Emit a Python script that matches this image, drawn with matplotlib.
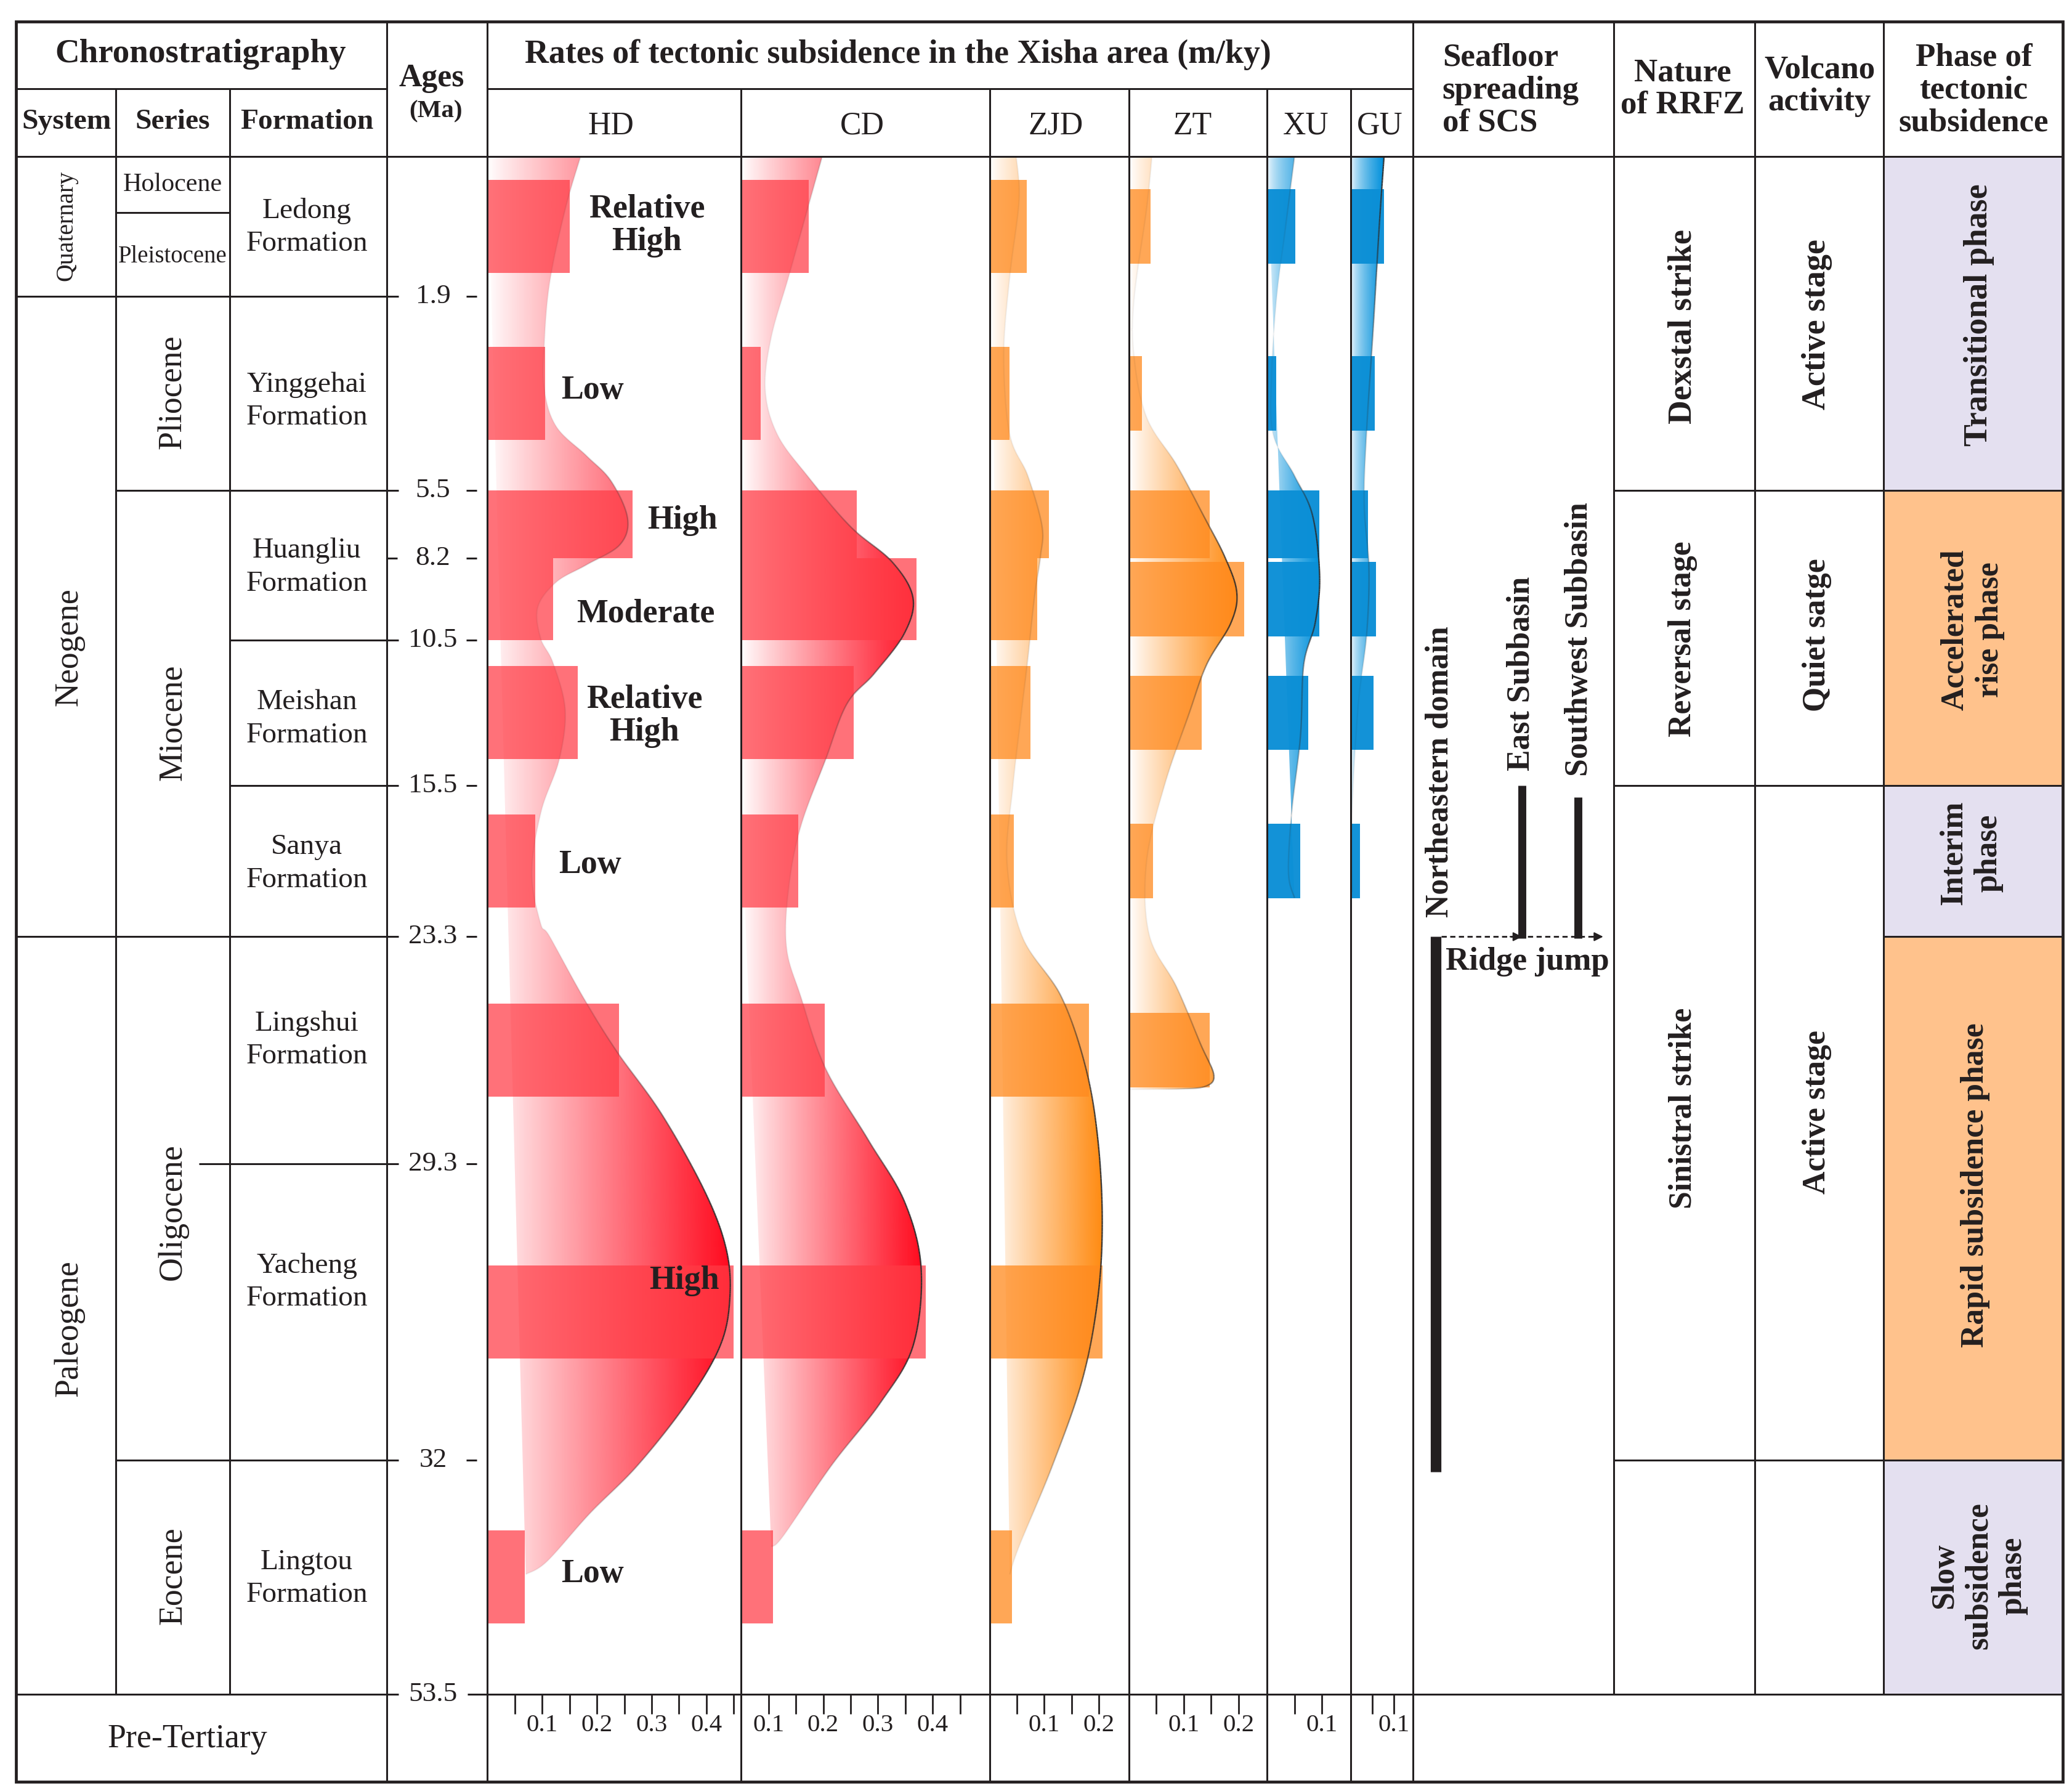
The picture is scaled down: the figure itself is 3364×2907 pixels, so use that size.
import numpy as np
import matplotlib
matplotlib.use("Agg")
import matplotlib.pyplot as plt
from matplotlib.path import Path
from matplotlib.patches import PathPatch, Rectangle
from matplotlib.collections import LineCollection
from matplotlib.colors import to_rgb

plt.rcParams['font.family'] = ['Liberation Serif', 'DejaVu Serif']

W, H = 1560, 1348            # page layout units
PT = 3364 / W * 0.72         # layout unit -> points at dpi 100
INK = '#231f20'
TOP, BOT = 118, 1275         # body of the table (0 Ma .. 53.5 Ma)

# ---------------- data ----------------
age_ticks = [0, 1.9, 5.5, 8.2, 10.5, 15.5, 23.3, 29.3, 32, 53.5]
age_pos = [118, 223, 369, 420, 482, 591, 705, 876, 1099, 1275]   # where each age sits on the page

# age intervals of the rate bars (Ma)
bar_top = [0, 1.9, 5.5, 8.2, 10.5, 15.5, 23.3, 29.3, 32]
bar_bot = [1.9, 5.5, 8.2, 10.5, 15.5, 23.3, 29.3, 32, 53.5]

# subsidence rates (m/ky) per interval
hd_rate = [0.15, 0.105, 0.265, 0.12, 0.165, 0.087, 0.24, 0.45, 0.068]
cd_rate = [0.174, 0.086, 0.261, 0.37, 0.256, 0.154, 0.203, 0.387, 0.108]
zjd_rate = [0.068, 0.036, 0.109, 0.087, 0.075, 0.044, 0.182, 0.206, 0.041]
zt_rate = [0.039, 0.024, 0.148, 0.211, 0.133, 0.044, 0.148]
xu_rate = [0.051, 0.017, 0.095, 0.095, 0.075, 0.061]
gu_rate = [0.077, 0.055, 0.04, 0.058, 0.052, 0.022]

# trend envelopes (age Ma, rate m/ky)
hd_c_age = [0, 0.72, 1.7, 2.76, 3.63, 4.32, 4.86, 5.33, 6.61, 7.67, 8.39, 8.87, 9.57, 10.43, 11.28,
            12.89, 14.63, 16.87, 20.0, 22.6, 23.3, 24.9, 26.3, 28.0, 29.55, 30.07, 30.52, 30.96,
            31.48, 32.5, 36.9, 41.3, 42.5]
hd_c_rate = [0.170, 0.142, 0.114, 0.104, 0.104, 0.126, 0.181, 0.226, 0.256, 0.242, 0.181, 0.126,
             0.092, 0.097, 0.120, 0.142, 0.131, 0.098, 0.081, 0.097, 0.114, 0.175, 0.235, 0.319,
             0.397, 0.436, 0.443, 0.425, 0.364, 0.274, 0.187, 0.109, 0.070]
cd_c_age = [0, 0.72, 1.63, 2.66, 3.63, 4.46, 5.23, 6.93, 8.31, 9.31, 10.31, 11.65, 12.70, 14.63,
            17.62, 20.77, 23.58, 24.88, 26.77, 28.66, 29.65, 30.26, 30.96, 31.48, 32.49, 38.97, 39.95]
cd_c_rate = [0.198, 0.171, 0.137, 0.105, 0.094, 0.116, 0.171, 0.249, 0.326, 0.364, 0.348, 0.293,
             0.243, 0.204, 0.159, 0.137, 0.133, 0.159, 0.204, 0.282, 0.349, 0.379, 0.364, 0.304,
             0.215, 0.127, 0.105]
zjd_c_age = [0, 0.6, 1.63, 3.0, 4.46, 5.23, 6.93, 8.15, 9.31, 11.14, 12.89, 15.5, 19.47, 23.3,
             24.88, 26.77, 28.66, 29.82, 30.52, 31.26, 32.49, 39.94, 42.5]
zjd_c_rate = [0.049, 0.054, 0.037, 0.026, 0.037, 0.070, 0.096, 0.093, 0.082, 0.070, 0.059, 0.043,
              0.032, 0.06, 0.131, 0.176, 0.198, 0.206, 0.198, 0.170, 0.115, 0.054, 0.037]
zt_c_age = [0, 0.72, 1.97, 3.0, 4.14, 5.03, 6.5, 8.15, 9.16, 10.02, 11.33, 13.07, 15.5, 19.47,
            23.2, 24.63, 26.14, 26.95, 27.25, 27.32, 27.33]
zt_c_rate = [0.042, 0.032, 0.009, 0.009, 0.032, 0.087, 0.136, 0.175, 0.197, 0.186, 0.142, 0.109,
             0.065, 0.032, 0.037, 0.087, 0.131, 0.155, 0.14, 0.09, 0.0]
xu_c_age = [0, 0.94, 1.97, 3.4, 4.46, 5.23, 6.5, 8.7, 10.0, 11.33, 13.8, 16.87, 20.0, 21.3]
xu_c_rate = [0.050, 0.034, 0.017, 0.008, 0.011, 0.050, 0.083, 0.096, 0.088, 0.067, 0.061, 0.045,
             0.039, 0.050]
gu_c_age = [0, 0.94, 2.49, 4.36, 6.0, 8.45, 10.3, 12.8, 16.87, 21.0]
gu_c_rate = [0.077, 0.066, 0.052, 0.037, 0.031, 0.042, 0.037, 0.017, 0.003, 0.003]

wells = ['HD', 'CD', 'ZJD', 'ZT', 'XU', 'GU']

hd_notes = ['Relative\nHigh', 'Low', 'High', 'Moderate', 'Relative\nHigh', 'Low', 'High', 'Low']


def depth(a):
    return np.interp(a, age_ticks, age_pos)


# ---------------- figure ----------------
fig = plt.figure(figsize=(33.64, 29.07), dpi=100)
fig.patch.set_facecolor('white')


def frame(xl, xr):
    return [xl / W, 1 - BOT / H, (xr - xl) / W, (BOT - TOP) / H]


def bezier_curve(px, py, n=24):
    # Catmull-Rom knots -> cubic Bezier, sampled
    P = np.column_stack([px, py])
    Q = np.vstack([P[0], P, P[-1]])
    t = np.linspace(0, 1, n)[:, None]
    out = [P[:1]]
    for i in range(len(P) - 1):
        p0, p1, p2, p3 = Q[i], Q[i + 1], Q[i + 2], Q[i + 3]
        c1 = p1 + (p2 - p0) / 6
        c2 = p2 - (p3 - p1) / 6
        b = ((1 - t) ** 3) * p1 + 3 * ((1 - t) ** 2) * t * c1 + 3 * (1 - t) * t ** 2 * c2 + t ** 3 * p2
        out.append(b[1:])
    return np.vstack(out)


RED, ORANGE, BLUE = '#ff0a1e', '#ff8a10', '#0090dc'
columns = [
    # name, left, right, x origin, units per 1 m/ky, colour, gradient gamma, bar colour, bar alpha,
    # rates, curve, half bar height, last tick
    ('HD', 367, 558, 0.0, 412, RED, 0.9, '#ff3b45', 0.72, hd_rate, hd_c_age, hd_c_rate, 35, 0.45),
    ('CD', 558, 745, 0.05, 412, RED, 0.9, '#ff3b45', 0.72, cd_rate, cd_c_age, cd_c_rate, 35, 0.45),
    ('ZJD', 745, 850, 0.0, 412, ORANGE, 0.9, '#ff8a1e', 0.75, zjd_rate, zjd_c_age, zjd_c_rate, 35, 0.2),
    ('ZT', 850, 954, 0.0, 412, ORANGE, 0.9, '#ff8a1e', 0.75, zt_rate, zt_c_age, zt_c_rate, 28, 0.2),
    ('XU', 954, 1017, 0.0, 412, BLUE, 0.6, '#0b8fd6', 0.97, xu_rate, xu_c_age, xu_c_rate, 28, 0.1),
    ('GU', 1017, 1064, 0.0, 325, BLUE, 0.6, '#0b8fd6', 0.97, gu_rate, gu_c_age, gu_c_rate, 28, 0.1),
]

for name, xl, xr, x0, scale, col, gam, bcol, balpha, rates, c_age, c_rate, half, tmax in columns:
    ax = fig.add_axes(frame(xl, xr), zorder=1)
    ax.set_facecolor('none')
    x1 = x0 + (xr - xl) / scale

    # envelope with horizontal colour gradient
    pts = bezier_curve(c_rate, depth(c_age))
    poly = np.vstack([[0, pts[0, 1]], pts, [0, pts[-1, 1]]])
    clip = PathPatch(Path(poly, closed=True), transform=ax.transData, facecolor='none', edgecolor='none')
    peak = max(c_rate)
    xs = np.linspace(x0, x1, 400)
    img = np.zeros((1, len(xs), 4))
    img[0, :, :3] = to_rgb(col)
    img[0, :, 3] = np.clip((xs - x0) / (peak - x0), 0, 1) ** gam
    im = ax.imshow(img, extent=[x0, x1, BOT, TOP], aspect='auto', interpolation='bilinear', zorder=1)
    im.set_clip_path(clip)

    # bars
    for i, r in enumerate(rates):
        y0, y1 = depth(bar_top[i]), depth(bar_bot[i])
        h = min(half, (y1 - y0) / 2)
        ax.barh((y0 + y1) / 2, r, height=2 * h, left=0, color=bcol, alpha=balpha, lw=0, zorder=2)

    # envelope outline, darker where the rate is high
    segs = np.stack([pts[:-1], pts[1:]], axis=1)
    level = np.clip((segs[:, :, 0].mean(axis=1) - x0) / (peak - x0), 0, 1)
    cols = np.zeros((len(segs), 4))
    cols[:, :3] = to_rgb('#2a2a2a')
    cols[:, 3] = np.clip(level ** 2.2, 0.06, 0.9)
    ax.add_collection(LineCollection(segs, colors=cols, linewidths=1.1 * PT, zorder=3))

    ax.set_xlim(x0, x1)
    ax.set_ylim(BOT, TOP)
    for s in ax.spines.values():
        s.set_visible(False)
    ax.set_yticks([])
    major = [v / 10 for v in range(1, 5) if x0 + 0.01 < v / 10 <= tmax + 1e-9]
    minor = [v / 20 for v in range(1, 10, 2) if x0 + 0.01 < v / 20 <= tmax + 1e-9]
    ax.set_xticks(major)
    ax.set_xticklabels(['%.1f' % v for v in major])
    ax.set_xticks(minor, minor=True)
    ax.tick_params(axis='x', which='both', direction='out', length=15 * PT, width=1.3 * PT,
                   color=INK, labelsize=19 * PT, labelcolor=INK, pad=0)

# ---------------- table overlay ----------------
lay = fig.add_axes([0, 0, 1, 1], zorder=3)
lay.set_xlim(0, W)
lay.set_ylim(H, 0)
lay.axis('off')
lay.set_facecolor('none')

# phase colours
phase_fill = [(118, 369, '#e4e0f0'), (369, 591, '#ffc28c'), (591, 705, '#e4e0f0'),
              (705, 1099, '#ffc28c'), (1099, 1275, '#e4e0f0')]
for y0, y1, c in phase_fill:
    lay.add_patch(Rectangle((1418, y0), 1553 - 1418, y1 - y0, facecolor=c, edgecolor='none', zorder=0))


def seg(xs, ys, lw=1.4):
    lay.plot(xs, ys, color=INK, lw=lw * PT, solid_capstyle='butt', zorder=2)


# outer frame
lay.add_patch(Rectangle((12, 16), 1553 - 12, 1341 - 16, facecolor='none', edgecolor=INK, lw=2.2 * PT, zorder=3))
seg([12, 291], [67, 67])
seg([367, 1064], [67, 67])
seg([12, 1553], [118, 118])
seg([12, 300], [1275, 1275])
seg([352, 1553], [1275, 1275])
for x in [291, 367, 1064]:
    seg([x, x], [16, 1341])
for x in [558, 745, 850, 954, 1017]:
    seg([x, x], [67, 1341])
for x in [87, 173]:
    seg([x, x], [67, 1275])
for x in [1215, 1321, 1418]:
    seg([x, x], [16, 1275])

# stratigraphic boundaries
seg([87, 173], [160, 160])
seg([12, 300], [223, 223])
seg([87, 300], [369, 369])
seg([173, 300], [482, 482])
seg([173, 300], [591, 591])
seg([12, 300], [705, 705])
seg([150, 300], [876, 876])
seg([87, 300], [1099, 1099])
seg([291, 299], [420, 420])
for y in age_pos[1:-1]:
    seg([351, 359], [y, y])
for y in [369, 591, 1099]:
    seg([1215, 1553], [y, y])
seg([1418, 1553], [705, 705])


def put(x, y, s, size, bold=False, rot=0, ha='center', ls=1.0):
    lay.text(x, y, s, fontsize=size * PT, fontweight='bold' if bold else 'normal', rotation=rot,
             ha=ha, va='center', color=INK, linespacing=ls, multialignment='center' if ha == 'center' else ha,
             zorder=4)


# headers
put(151, 41, 'Chronostratigraphy', 25.5, True)
put(676, 41, 'Rates of tectonic subsidence in the Xisha area (m/ky)', 25, True)
put(50, 92, 'System', 22, True)
put(130, 92, 'Series', 22, True)
put(231, 92, 'Formation', 22, True)
put(325, 59, 'Ages', 24, True)
put(328, 84, '(Ma)', 19, True)
for w, x in zip(wells, [460, 649, 795, 898, 983, 1039]):
    put(x, 95, w, 24)
put(1086, 68, 'Seafloor\nspreading\nof SCS', 24.5, True, ha='left', ls=1.14)
put(1267, 67, 'Nature\nof RRFZ', 24.5, True, ls=1.12)
put(1370, 65, 'Volcano\nactivity', 24.5, True, ls=1.12)
put(1486, 68, 'Phase of\ntectonic\nsubsidence', 24.5, True, ls=1.14)

# chronostratigraphy
put(50, 170, 'Quaternary', 18.5, rot=90)
put(52, 487, 'Neogene', 25, rot=90)
put(52, 1000, 'Paleogene', 25, rot=90)
put(130, 139, 'Holocene', 19.5)
put(130, 193, 'Pleistocene', 18)
put(130, 295, 'Pliocene', 25, rot=90)
put(130, 544, 'Miocene', 25, rot=90)
put(130, 912, 'Oligocene', 25, rot=90)
put(130, 1186, 'Eocene', 25, rot=90)
formations = ['Ledong', 'Yinggehai', 'Huangliu', 'Meishan', 'Sanya', 'Lingshui', 'Yacheng', 'Lingtou']
for f, y in zip(formations, [171, 302, 427, 541, 650, 783, 965, 1188]):
    put(231, y, f + '\nFormation', 22, ls=1.33)
for a, y in zip(age_ticks[1:], age_pos[1:]):
    put(326, y, ('%g' % a), 21)
put(141, 1309, 'Pre-Tertiary', 25)

# rate annotations in the HD column
for s, (x, y) in zip(hd_notes, [(487, 170), (446, 294), (514, 392), (486, 462), (485, 539),
                                (444, 651), (515, 964), (446, 1185)]):
    put(x, y, s, 25, True, ls=1.08)

# seafloor spreading
put(1084, 581, 'Northeastern domain', 24, True, rot=90)
put(1145, 507, 'East Subbasin', 24, True, rot=90)
put(1189, 481, 'Southwest Subbasin', 24, True, rot=90)
seg([1081, 1081], [705, 1108], lw=8)
seg([1146, 1146], [591, 706], lw=6)
seg([1188, 1188], [600, 706], lw=6)
lay.plot([1085, 1200], [705, 705], color=INK, lw=1.3 * PT, ls=(0, (3, 2)), zorder=2)
for xa in [1146, 1207]:
    lay.annotate('', xy=(xa, 705), xytext=(xa - 9, 705),
                 arrowprops=dict(arrowstyle='-|>', color=INK, lw=1.0 * PT, mutation_scale=14 * PT,
                                 shrinkA=0, shrinkB=0))
put(1150, 724, 'Ridge jump', 24.5, True)

# RRFZ / volcano / phase
put(1267, 246, 'Dexstal strike', 25, True, rot=90)
put(1267, 481, 'Reversal stage', 24, True, rot=90)
put(1267, 834, 'Sinistral strike', 24, True, rot=90)
put(1368, 244, 'Active stage', 25, True, rot=90)
put(1368, 478, 'Quiet satge', 24, True, rot=90)
put(1368, 837, 'Active stage', 24, True, rot=90)
put(1490, 237, 'Transitional phase', 25, True, rot=90)
put(1485, 474, 'Accelerated\nrise phase', 24, True, rot=90, ls=1.25)
put(1484, 642, 'Interim\nphase', 24, True, rot=90, ls=1.25)
put(1487, 892, 'Rapid subsidence phase', 24, True, rot=90)
put(1490, 1186, 'Slow\nsubsidence\nphase', 24, True, rot=90, ls=1.2)

fig.savefig('out.png', dpi=100, facecolor='white')
